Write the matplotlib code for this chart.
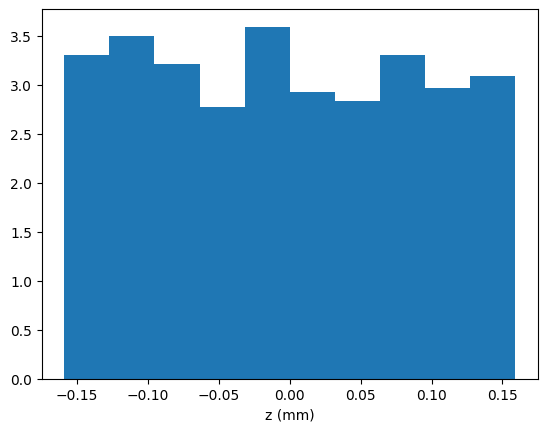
import matplotlib
matplotlib.use("Agg")
import matplotlib.pyplot as plt
import numpy as np

# bin edges (mm) and density values
z_min = -0.159
z_max = 0.159
n_bins = 10
density = [3.306, 3.50, 3.214, 2.776, 3.592, 2.929, 2.837, 3.306, 2.969, 3.092]

edges = np.linspace(z_min, z_max, n_bins + 1)

fig, ax = plt.subplots(figsize=(6.4, 4.8))
ax.hist(edges[:-1], bins=edges, weights=density)
ax.set_xlabel("z (mm)")

plt.savefig("out.png", dpi=100, bbox_inches="tight")
plt.close()
